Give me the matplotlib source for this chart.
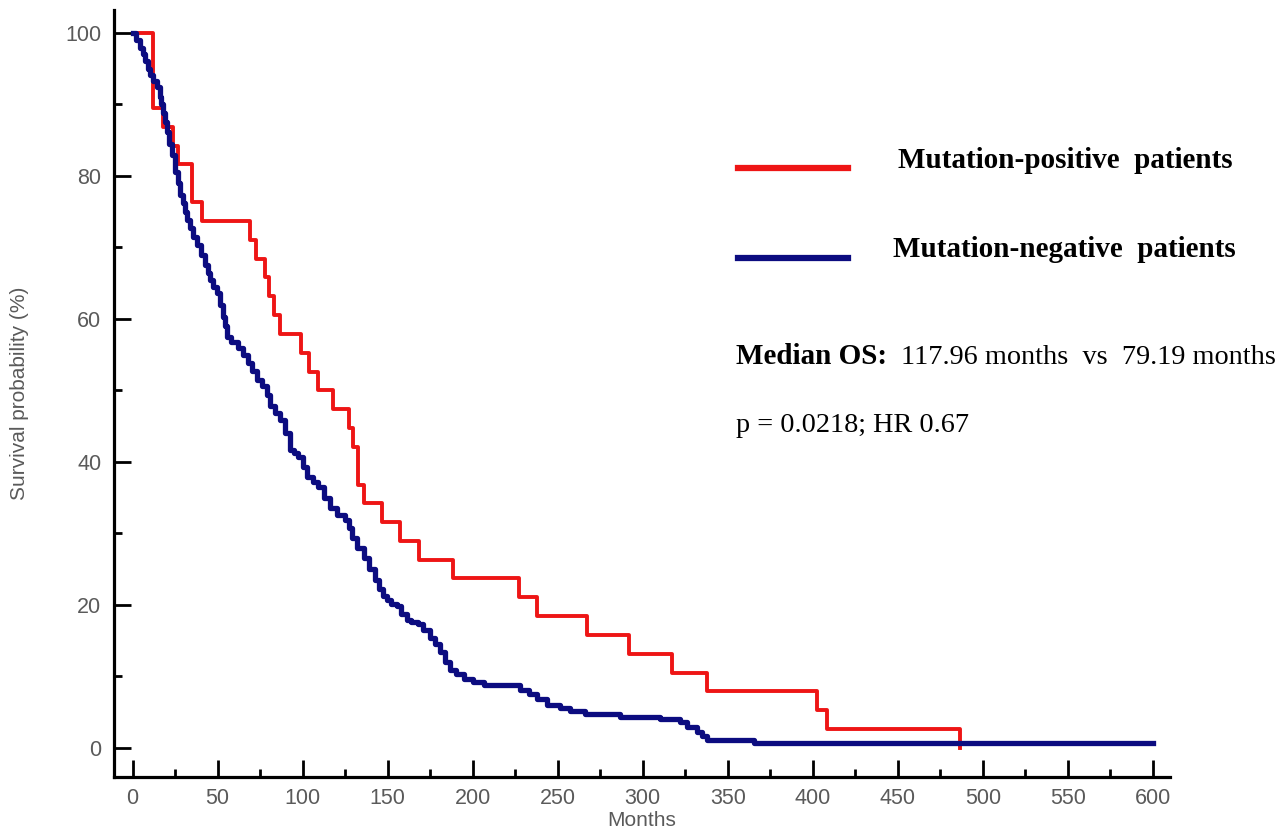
import matplotlib
matplotlib.use("Agg")
import matplotlib.pyplot as plt
from matplotlib.lines import Line2D
from matplotlib.ticker import MultipleLocator

# Kaplan-Meier steps (months, survival %)
pos_months = [0, 11.9, 18, 24, 27, 34.8, 40.7, 69.1, 72.6, 77.8, 80.5, 83.2, 86.8,
              98.9, 103.8, 108.9, 118.0, 127, 129.7, 132.8, 136, 146.6, 157.4,
              168.7, 188.7, 227.5, 238.1, 267.2, 292.1, 317.2, 337.8, 402.5,
              408.3, 486.6]
pos_surv = [100, 89.5, 86.8, 84.2, 81.6, 76.3, 73.7, 71.1, 68.4, 65.8, 63.2, 60.5,
            57.9, 55.3, 52.6, 50.0, 47.4, 44.7, 42.1, 36.8, 34.2, 31.6, 28.9,
            26.3, 23.7, 21.1, 18.4, 15.8, 13.2, 10.5, 7.9, 5.3, 2.6, 0]

neg_months = [0, 2, 4.4, 6, 7.4, 9, 10.3, 12, 14.2, 16.2, 17, 18.1, 19, 20.1, 21.5,
              23.1, 25, 26.5, 27.9, 29.5, 30.9, 32.3, 33.8, 35.8, 37.8, 40, 42.6,
              44.6, 45.6, 47.5, 49.5, 51.5, 53.4, 54.4, 55.4, 58, 62.2, 65, 68.1,
              70.5, 73.1, 76, 79.2, 81, 83.5, 86.8, 89.5, 92.6, 95, 97.5, 100,
              102.5, 106, 109.3, 112.5, 116.2, 120.1, 125, 127, 128.9, 132, 135.8,
              139, 142.6, 145, 147.5, 149.5, 152, 155.4, 158, 161.3, 164, 168.1,
              171, 175, 178, 180.9, 184, 186.8, 190, 194.6, 200, 206.4, 228, 233,
              237.8, 243.6, 251.5, 257.4, 266.2, 286.8, 310.3, 322, 326, 331.9,
              335, 337.8, 365.2, 600]
neg_surv = [100, 99, 97.9, 97, 96.0, 95, 94.1, 93.3, 92.5, 91.1, 90, 88.8, 87.5,
            86.2, 84.5, 82.9, 80.6, 79, 77.3, 76.2, 75.0, 73.8, 72.7, 71.5, 70.3,
            69, 67.6, 66.4, 65.5, 64.5, 63.6, 62, 60.3, 59, 57.5, 56.8, 55.9, 55,
            53.8, 52.7, 51.5, 50.6, 49.4, 47.8, 46.8, 45.9, 44, 41.7, 41.2, 40.7,
            39.3, 37.9, 37.2, 36.5, 35, 33.6, 32.6, 31.9, 30.8, 29.4, 28, 26.5, 25,
            23.5, 22.2, 21.2, 20.7, 20.2, 19.8, 18.8, 17.9, 17.6, 17.4, 16.5, 15.4,
            14.5, 13.4, 12, 10.9, 10.3, 9.7, 9.2, 8.8, 8.1, 7.5, 6.9, 6.0, 5.6,
            5.1, 4.7, 4.4, 4.0, 3.7, 3.0, 2.3, 1.7, 1.1, 0.7, 0.7]

pos_label = "Mutation-positive  patients"
neg_label = "Mutation-negative  patients"

W, H = 1278, 835
fig = plt.figure(figsize=(W / 100, H / 100), dpi=100)
ax = fig.add_axes([114 / W, 1 - 777 / H, (1170 - 114) / W, (777 - 10) / H])

red = "#ee1515"
navy = "#0c0c80"
ax.step(pos_months, pos_surv, where="post", color=red, lw=2.8, zorder=2)
ax.step(neg_months, neg_surv, where="post", color=navy, lw=3.8, zorder=3)

ax.set_xlim(-10.9, 610)
ax.set_ylim(-4.06, 103.2)
for s in ["top", "right"]:
    ax.spines[s].set_visible(False)
for s in ["left", "bottom"]:
    ax.spines[s].set_linewidth(2.3)
    ax.spines[s].set_color("black")

ax.xaxis.set_major_locator(MultipleLocator(50))
ax.xaxis.set_minor_locator(MultipleLocator(25))
ax.yaxis.set_major_locator(MultipleLocator(20))
ax.yaxis.set_minor_locator(MultipleLocator(10))
ax.tick_params(which="major", direction="in", length=12, width=2, colors="black",
               labelcolor="#5a5a5a", labelsize=15.5)
ax.tick_params(which="minor", direction="in", length=6, width=2, colors="black")
ax.tick_params(axis="y", pad=9)
ax.tick_params(axis="x", pad=8)
for lab in ax.get_xticklabels() + ax.get_yticklabels():
    lab.set_family("Liberation Sans")

ax.set_xlabel("Months", family="Liberation Sans", fontsize=15, color="#5a5a5a", labelpad=1)
ax.set_ylabel("Survival probability (%)", family="Liberation Sans", fontsize=15,
              color="#5a5a5a", labelpad=26)

# legend drawn by hand like the original
fig.add_artist(Line2D([738 / W, 848 / W], [1 - 168 / H] * 2, color=red, lw=4.5))
fig.add_artist(Line2D([738 / W, 848 / W], [1 - 258 / H] * 2, color=navy, lw=4.5))
fig.text(898 / W, 1 - 161 / H, pos_label, family="Liberation Serif", weight="bold",
         fontsize=21, va="center", ha="left")
fig.text(893 / W, 1 - 250 / H, neg_label, family="Liberation Serif", weight="bold",
         fontsize=21, va="center", ha="left")
fig.text(736 / W, 1 - 357 / H, "Median OS:", family="Liberation Serif", weight="bold",
         fontsize=21, va="center", ha="left")
fig.text(901 / W, 1 - 357 / H, "117.96 months  vs  79.19 months",
         family="Liberation Serif", fontsize=20.3, va="center", ha="left")
fig.text(736 / W, 1 - 425 / H, "p = 0.0218; HR 0.67", family="Liberation Serif",
         fontsize=20.3, va="center", ha="left")

fig.savefig("out.png", dpi=100, facecolor="white")
